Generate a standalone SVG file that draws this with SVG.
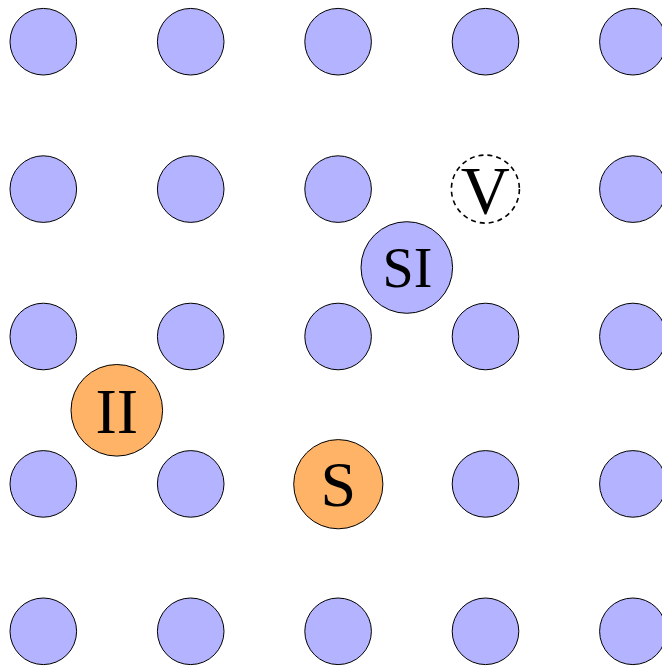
<svg xmlns="http://www.w3.org/2000/svg" width="662" height="666" viewBox="0 0 662 666">
<style>
.a{fill:#b3b3ff;stroke:#000;stroke-width:1}
.o{fill:#ffb366;stroke:#000;stroke-width:1}
.v{fill:none;stroke:#000;stroke-width:1.6;stroke-dasharray:5,4}
.t{font-family:"Liberation Serif","Times New Roman",serif;text-anchor:middle;fill:#000}
</style>
<rect width="662" height="666" fill="#fff"/>
<g id="lattice">
<circle class="a" cx="43.3" cy="41.7" r="33.3"/><circle class="a" cx="190.7" cy="41.7" r="33.3"/><circle class="a" cx="338.1" cy="41.7" r="33.3"/><circle class="a" cx="485.5" cy="41.7" r="33.3"/><circle class="a" cx="632.9" cy="41.7" r="33.3"/>
<circle class="a" cx="43.3" cy="189.1" r="33.3"/><circle class="a" cx="190.7" cy="189.1" r="33.3"/><circle class="a" cx="338.1" cy="189.1" r="33.3"/><circle class="a" cx="632.9" cy="189.1" r="33.3"/>
<circle class="a" cx="43.3" cy="336.5" r="33.3"/><circle class="a" cx="190.7" cy="336.5" r="33.3"/><circle class="a" cx="338.1" cy="336.5" r="33.3"/><circle class="a" cx="485.5" cy="336.5" r="33.3"/><circle class="a" cx="632.9" cy="336.5" r="33.3"/>
<circle class="a" cx="43.3" cy="483.9" r="33.3"/><circle class="a" cx="190.7" cy="483.9" r="33.3"/><circle class="a" cx="485.5" cy="483.9" r="33.3"/><circle class="a" cx="632.9" cy="483.9" r="33.3"/>
<circle class="a" cx="43.3" cy="631.3" r="33.3"/><circle class="a" cx="190.7" cy="631.3" r="33.3"/><circle class="a" cx="338.1" cy="631.3" r="33.3"/><circle class="a" cx="485.5" cy="631.3" r="33.3"/><circle class="a" cx="632.9" cy="631.3" r="33.3"/>
</g>
<g id="V"><circle class="v" cx="485.4" cy="189.1" r="34"/><text class="t" x="485.4" y="212.7" font-size="68">V</text></g>
<g id="SI"><circle class="a" cx="406.8" cy="267.5" r="45.8"/><text class="t" x="407.5" y="286.5" font-size="56">SI</text></g>
<g id="II"><circle class="o" cx="116.8" cy="410.3" r="45.8"/><text class="t" x="116.8" y="432.7" font-size="64">II</text></g>
<g id="S"><circle class="o" cx="338.3" cy="484.2" r="44.6"/><text class="t" x="338.3" y="505.5" font-size="64">S</text></g>
</svg>
